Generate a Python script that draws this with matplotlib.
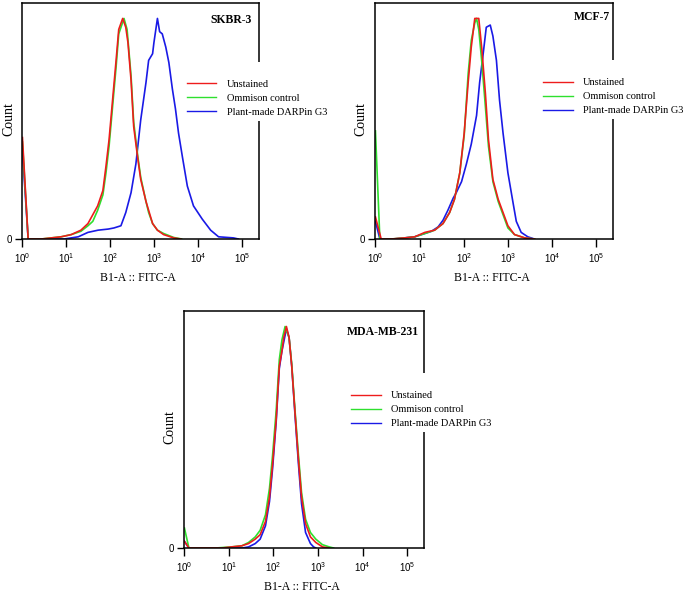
import numpy as np
import matplotlib
matplotlib.use("Agg")
import matplotlib.pyplot as plt
from matplotlib.lines import Line2D
from matplotlib.ticker import FixedLocator, LogLocator, NullFormatter

plt.rcParams.update({
    "font.family": ["Liberation Serif", "DejaVu Serif"],
    "mathtext.fontset": "custom",
    "mathtext.rm": "Liberation Sans",
    "mathtext.it": "Liberation Sans:italic",
    "mathtext.bf": "Liberation Sans:bold",
    "axes.linewidth": 1.1,
})

labels = ["Unstained", "Ommison control", "Plant-made DARPin G3"]
colors = ["#ee1c1c", "#2ee02e", "#1a1ae6"]

# x values are log10(FITC-A), y values are % of mode
# ---- SKBR-3 ----
skbr3_red_x = [0.0, 0.13, 0.43, 0.88, 1.11, 1.33, 1.49, 1.60, 1.71, 1.83, 1.90, 1.97, 2.05, 2.13,
               2.19, 2.28, 2.35, 2.40, 2.47, 2.53, 2.62, 2.69, 2.81, 2.87, 2.96, 3.07, 3.21, 3.44, 3.60]
skbr3_red_y = [46, 0, 0, 1, 2, 4, 7, 11, 15, 22, 33, 45, 63, 81,
               95, 100, 96, 89, 72, 51, 37, 27, 17, 13, 7, 4, 2, 0.5, 0]
skbr3_green_x = [0.0, 0.13, 0.43, 0.88, 1.11, 1.33, 1.49, 1.60, 1.71, 1.83, 1.90, 1.97, 2.05, 2.13,
                 2.19, 2.31, 2.38, 2.47, 2.53, 2.62, 2.69, 2.81, 2.87, 2.96, 3.07, 3.21, 3.44, 3.62]
skbr3_green_y = [44, 0, 0, 1, 2, 3.5, 6, 8, 13, 20, 30, 42, 60, 78,
                 93, 100, 95, 74, 53, 38, 28, 17, 12, 7, 4, 2.5, 0.7, 0]
skbr3_blue_x = [0.0, 0.13, 0.95, 1.27, 1.49, 1.72, 1.95, 2.08, 2.24, 2.35, 2.47, 2.58, 2.69, 2.81,
                2.87, 2.96, 2.99, 3.07, 3.12, 3.18, 3.26, 3.33, 3.41, 3.48, 3.55, 3.64, 3.75, 3.89,
                4.09, 4.28, 4.46, 4.80, 4.91]
skbr3_blue_y = [40, 0, 0, 1, 3, 4, 4.5, 5, 6, 12, 21, 34, 54, 71,
                81, 84, 89, 100, 94, 93, 87, 80, 68, 59, 48, 37, 24, 15,
                9, 4, 1, 0.5, 0]

# ---- MCF-7 ----
mcf7_red_x = [0.0, 0.13, 0.36, 0.66, 0.89, 1.12, 1.34, 1.53, 1.68, 1.79, 1.91, 2.01, 2.10, 2.17,
              2.25, 2.34, 2.41, 2.49, 2.56, 2.66, 2.78, 2.89, 3.00, 3.15, 3.38, 3.60]
mcf7_red_y = [10, 0, 0, 0.5, 1, 3, 4, 7, 12, 18, 30, 48, 71, 87,
              100, 100, 86, 66, 45, 27, 18, 12, 6, 2, 0.5, 0]
mcf7_green_x = [0.0, 0.10, 0.36, 0.66, 0.89, 1.12, 1.34, 1.53, 1.68, 1.79, 1.91, 2.01, 2.10, 2.17,
                2.25, 2.29, 2.34, 2.41, 2.49, 2.56, 2.66, 2.78, 2.89, 3.00, 3.15, 3.38, 3.60]
mcf7_green_y = [49, 0, 0, 0.5, 1, 2.5, 4, 7, 12, 18, 30, 47, 75, 90,
                98, 100, 95, 80, 60, 42, 26, 17, 11, 5, 2, 0.5, 0]
mcf7_blue_x = [0.0, 0.10, 0.40, 0.66, 0.89, 1.12, 1.27, 1.42, 1.53, 1.64, 1.76, 1.83, 1.95, 2.06,
               2.17, 2.29, 2.36, 2.44, 2.51, 2.60, 2.66, 2.74, 2.81, 2.89, 3.00, 3.12, 3.19, 3.30,
               3.45, 3.60]
mcf7_blue_y = [8, 0, 0, 0.5, 1, 2.5, 3.5, 5.5, 8.5, 13, 18.5, 21, 26, 34,
               43, 56, 71, 84, 96, 97, 92, 81, 63, 48, 30, 16, 8, 3,
               1, 0]

# ---- MDA-MB-231 ----
mda_red_x = [0.0, 0.10, 0.84, 1.06, 1.29, 1.44, 1.59, 1.70, 1.82, 1.91, 1.98, 2.06, 2.13, 2.19,
             2.23, 2.29, 2.35, 2.41, 2.48, 2.56, 2.63, 2.72, 2.83, 2.95, 3.10, 3.25]
mda_red_y = [3, 0, 0, 0.5, 1, 2, 4, 6, 12, 23, 38, 58, 82, 89,
             95, 100, 95, 82, 62, 40, 23, 11, 5, 2.5, 0.5, 0]
mda_green_x = [0.0, 0.10, 0.70, 1.06, 1.29, 1.44, 1.59, 1.70, 1.82, 1.91, 1.98, 2.06, 2.13, 2.19,
               2.26, 2.35, 2.41, 2.48, 2.56, 2.63, 2.72, 2.83, 2.95, 3.10, 3.25, 3.35]
mda_green_y = [9, 0, 0, 0.5, 1, 2.5, 5, 8, 15, 27, 42, 62, 85, 94,
               100, 95, 83, 63, 42, 25, 13, 7, 4, 1.5, 0.5, 0]
mda_blue_x = [0.0, 0.10, 1.30, 1.44, 1.59, 1.70, 1.82, 1.91, 1.98, 2.06, 2.13, 2.19, 2.29, 2.35,
              2.41, 2.48, 2.56, 2.63, 2.72, 2.83, 2.90, 2.95]
mda_blue_y = [3, 0, 0, 0.5, 2, 4, 10, 21, 36, 57, 81, 89, 99, 95,
              82, 61, 38, 20, 7, 2, 0.5, 0]

panels = [
    ("SKBR-3", [22, 3, 259, 239], (0.97, 0.928), (0.68, 0.75),
     [(skbr3_red_x, skbr3_red_y), (skbr3_green_x, skbr3_green_y), (skbr3_blue_x, skbr3_blue_y)]),
    ("MCF-7", [375, 3, 613, 239], (0.987, 0.94), (0.69, 0.758),
     [(mcf7_red_x, mcf7_red_y), (mcf7_green_x, mcf7_green_y), (mcf7_blue_x, mcf7_blue_y)]),
    ("MDA-MB-231", [184, 311, 424, 548], (0.979, 0.911), (0.68, 0.738),
     [(mda_red_x, mda_red_y), (mda_green_x, mda_green_y), (mda_blue_x, mda_blue_y)]),
]

W, H = 685, 592
fig = plt.figure(figsize=(W / 100, H / 100), dpi=100)

for title, (x0, y0, x1, y1), tpos, lpos, curves in panels:
    ax = fig.add_axes([x0 / W, 1 - y1 / H, (x1 - x0) / W, (y1 - y0) / H])
    # draw blue, then green, then red on top
    for (xs, ys), c in reversed(list(zip(curves, colors))):
        ax.plot(10 ** np.array(xs), ys, color=c, lw=1.2)

    ax.set_xscale("log")
    ax.set_xlim(10 ** -0.01, 10 ** 5.38)
    ax.set_ylim(0, 107)

    ax.xaxis.set_major_locator(FixedLocator([10.0 ** k for k in range(6)]))
    ax.set_xticklabels([f"$10^{{{k}}}$" for k in range(6)], fontsize=7)
    ax.xaxis.set_minor_locator(LogLocator(base=10, subs=np.arange(2, 10)))
    ax.xaxis.set_minor_formatter(NullFormatter())
    ax.tick_params(axis="x", which="major", direction="out", length=6, width=1.0, pad=3)
    ax.tick_params(axis="x", which="minor", direction="out", length=3, width=0.8)
    ax.set_yticks([0])
    ax.set_yticklabels(["0"], fontsize=7, family="Liberation Sans")
    ax.tick_params(axis="y", direction="out", length=5, width=1.0, pad=2)

    ax.set_xlabel("B1-A :: FITC-A", fontsize=8.5)
    ax.xaxis.set_label_coords(0.49, -0.14)
    ax.set_ylabel("Count", fontsize=10)
    ax.yaxis.set_label_coords(-0.03, 0.51)

    ax.text(tpos[0], tpos[1], title, transform=ax.transAxes, ha="right", va="center",
            fontsize=8.5, fontweight="bold")

    handles = [Line2D([], [], color=c, lw=1.0) for c in colors]
    leg = ax.legend(handles, labels, loc="upper left", bbox_to_anchor=lpos, fontsize=7.5,
                    title=" ", title_fontsize=7.5,
                    frameon=True, framealpha=1, facecolor="white", edgecolor="none",
                    handlelength=2.8, handletextpad=1.0, labelspacing=0.45,
                    borderpad=0.4, borderaxespad=0)
    leg.get_frame().set_linewidth(0)

fig.savefig("out.png", dpi=100)
